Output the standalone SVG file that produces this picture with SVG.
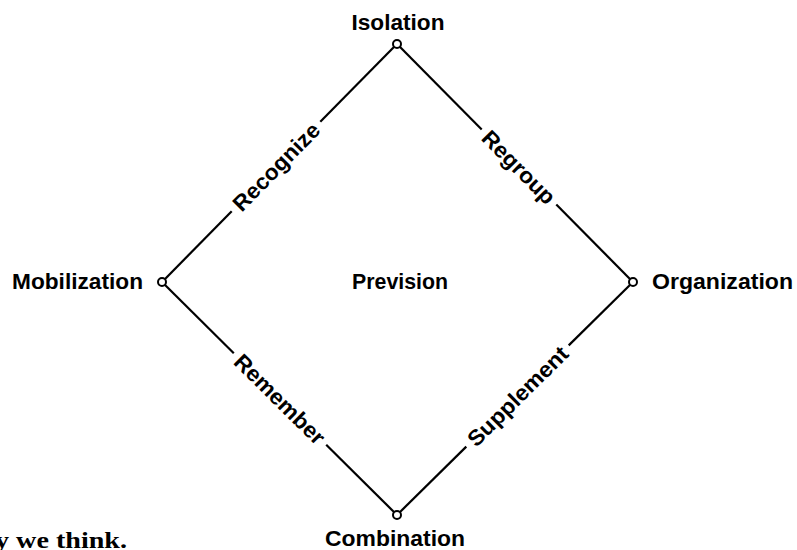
<svg xmlns="http://www.w3.org/2000/svg" width="797" height="550" viewBox="0 0 797 550">
<style>
  .lbl { font-family: "Liberation Sans", Arial, sans-serif; font-weight: bold; font-size: 22px; fill: #000; }
  .edge { font-family: "Liberation Sans", Arial, sans-serif; font-weight: bold; font-size: 22px; fill: #000; text-anchor: middle; }
  .ln { stroke: #000; stroke-width: 2.2; fill: none; stroke-linecap: butt; }
  .pt { stroke: #000; stroke-width: 2; fill: #fff; }
  .body { font-family: "Liberation Serif", "Times New Roman", serif; font-weight: bold; font-size: 24px; fill: #000; }
</style>
<rect width="797" height="550" fill="#fff"/>
<g id="connectors">
  <line class="ln" x1="164.8" y1="279.2" x2="231.7" y2="211.3"/>
  <line class="ln" x1="320.3" y1="121.7" x2="394.2" y2="46.8"/>
  <line class="ln" x1="399.8" y1="46.8" x2="481.7" y2="129.4"/>
  <line class="ln" x1="556.3" y1="204.6" x2="630.2" y2="279.2"/>
  <line class="ln" x1="164.8" y1="284.8" x2="233.8" y2="353.2"/>
  <line class="ln" x1="326.2" y1="444.8" x2="394.2" y2="512.2"/>
  <line class="ln" x1="399.8" y1="512.2" x2="466.3" y2="446.6"/>
  <line class="ln" x1="568.7" y1="345.4" x2="630.2" y2="284.8"/>
  <text class="edge" transform="translate(276,166.5) rotate(-45.4)" x="0" y="8" textLength="114" lengthAdjust="spacingAndGlyphs">Recognize</text>
  <text class="edge" transform="translate(519,167) rotate(45.24)" x="0" y="8" textLength="94" lengthAdjust="spacingAndGlyphs">Regroup</text>
  <text class="edge" transform="translate(280,399) rotate(44.76)" x="0" y="8" textLength="118" lengthAdjust="spacingAndGlyphs">Remember</text>
  <text class="edge" transform="translate(517.5,396) rotate(-44.63)" x="0" y="8" textLength="132" lengthAdjust="spacingAndGlyphs">Supplement</text>
</g>
<g id="isolation">
  <circle class="pt" cx="397" cy="44" r="4"/>
  <text class="lbl" x="398" y="30" text-anchor="middle" textLength="93" lengthAdjust="spacingAndGlyphs">Isolation</text>
</g>
<g id="mobilization">
  <circle class="pt" cx="162" cy="282" r="4"/>
  <text class="lbl" x="12" y="289" textLength="131" lengthAdjust="spacingAndGlyphs">Mobilization</text>
</g>
<g id="organization">
  <circle class="pt" cx="633" cy="282" r="4"/>
  <text class="lbl" x="652" y="289" textLength="141" lengthAdjust="spacingAndGlyphs">Organization</text>
</g>
<g id="combination">
  <circle class="pt" cx="397" cy="515" r="4"/>
  <text class="lbl" x="325" y="546" textLength="140" lengthAdjust="spacingAndGlyphs">Combination</text>
</g>
<g id="prevision">
  <text class="lbl" x="352" y="289" textLength="96" lengthAdjust="spacingAndGlyphs">Prevision</text>
</g>
<text class="body" x="-5" y="547.5" textLength="132" lengthAdjust="spacingAndGlyphs">y we think.</text>
</svg>
